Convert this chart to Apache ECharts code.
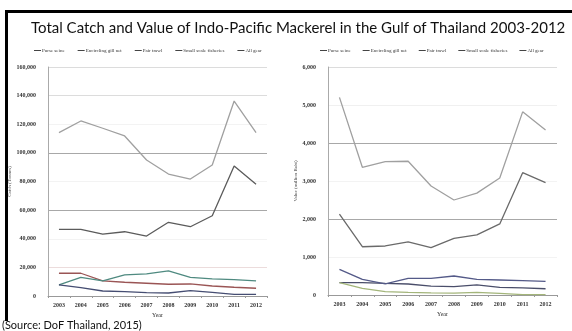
<!DOCTYPE html>
<html>
<head>
<meta charset="utf-8">
<script src="https://cdn.jsdelivr.net/npm/echarts@6/dist/echarts.min.js"></script>
<style>
  html, body { margin: 0; padding: 0; background: #fff; }
  #slide { position: relative; width: 572px; height: 331px; overflow: hidden; background: #fff; }
  #chart { position: absolute; left: 0; top: 0; width: 572px; height: 331px; }
  .frame-top { position: absolute; left: 5px; top: 10px; width: 567px; height: 3px; background: #000; }
  .frame-left { position: absolute; left: 5px; top: 10px; width: 3px; height: 311px; background: #000; }
</style>
</head>
<body>
<div id="slide">
  <div id="chart"></div>
  <div class="frame-top"></div>
  <div class="frame-left"></div>
</div>
<script>
// Years shown on both category axes
var years = ['2003', '2004', '2005', '2006', '2007', '2008', '2009', '2010', '2011', '2012'];
var gearNames = ['Purse seine', 'Encircling gill net', 'Pair trawl', 'Small scale fisheries', 'All gear'];

// Catch (tonnes)
var catchPurseSeine   = [46600, 46600, 43300, 44900, 41900, 51500, 48400, 56100, 90800, 78000];
var catchGillNet      = [15900, 15900, 10500, 9600, 8900, 8200, 8400, 7000, 6100, 5400];
var catchPairTrawl    = [7700, 13000, 10500, 14700, 15400, 17500, 13000, 11900, 11400, 10500];
var catchSmallScale   = [7700, 5800, 3500, 3000, 2300, 2100, 3700, 2600, 1200, 1200];
var catchAllGear      = [114100, 122300, 117200, 111800, 95000, 85200, 81700, 91500, 136200, 114100];

// Value (million Baht)
var valuePurseSeine   = [2130, 1270, 1290, 1400, 1245, 1490, 1580, 1870, 3220, 2955];
var valueGillNet      = [325, 325, 305, 290, 235, 220, 265, 200, 185, 165];
var valuePairTrawl    = [675, 410, 290, 440, 440, 500, 410, 395, 380, 360];
var valueSmallScale   = [325, 175, 90, 70, 55, 50, 70, 45, 10, 10];
var valueAllGear      = [5200, 3360, 3510, 3520, 2870, 2500, 2680, 3080, 4820, 4340];

var catchColors = ['#5b5b5b', '#9a5555', '#4f8a80', '#454d72', '#a0a0a0'];
var valueColors = ['#6a6a6a', '#4a4e6a', '#545a88', '#a3b57a', '#a0a0a0'];

var tickFont = { fontFamily: 'Liberation Serif', fontSize: 6, fontWeight: 'bold', color: '#333' };

function commas(v) { return Number(v).toLocaleString('en-US'); }

function makeXAxis(gridIndex) {
  return {
    type: 'category', gridIndex: gridIndex, data: years,
    name: 'Year', nameLocation: 'middle', nameGap: 13,
    nameTextStyle: { fontFamily: 'Liberation Serif', fontSize: 6, color: '#333' },
    axisLine: { lineStyle: { color: '#999', width: 1 } },
    axisTick: { show: true, length: 2, lineStyle: { color: '#999' } },
    axisLabel: Object.assign({ margin: 6 }, tickFont)
  };
}

function makeYAxis(gridIndex, max, interval, name, gridColors, margin) {
  return {
    type: 'value', gridIndex: gridIndex, min: 0, max: max, interval: interval,
    name: name, nameLocation: 'middle', nameGap: margin + 14, nameRotate: 90,
    nameTextStyle: { fontFamily: 'Liberation Serif', fontSize: 5, color: '#444' },
    axisLine: { show: true, lineStyle: { color: '#aaa', width: 1 } },
    axisTick: { show: false },
    axisLabel: Object.assign({ margin: margin, formatter: commas }, tickFont),
    splitLine: { show: true, lineStyle: { color: gridColors, width: 1 } }
  };
}

function makeSeries(values, colors, axisIndex) {
  return values.map(function (arr, i) {
    return {
      name: gearNames[i], type: 'line', data: arr,
      xAxisIndex: axisIndex, yAxisIndex: axisIndex,
      symbol: 'none', smooth: false,
      lineStyle: { color: colors[i], width: 1.3 },
      itemStyle: { color: colors[i] },
      z: 3
    };
  });
}

function makeLegend(left, gap) {
  return {
    data: gearNames, left: left, top: 48, padding: 0,
    icon: 'rect', itemWidth: 7, itemHeight: 1, itemGap: gap,
    itemStyle: { color: '#444' },
    textStyle: { fontFamily: 'Liberation Serif', fontSize: 5, color: '#333', padding: [0, 0, 0, -4] },
    selectedMode: false
  };
}

var chart = echarts.init(document.getElementById('chart'), null, { renderer: 'canvas' });
chart.setOption({
  animation: false,
  backgroundColor: 'transparent',
  title: [
    {
      text: 'Total Catch and Value of Indo-Pacific Mackerel in the Gulf of Thailand 2003-2012',
      left: 31, top: 21, padding: 0,
      textStyle: { fontFamily: 'Lato', fontSize: 15, fontWeight: 'normal', color: '#111' }
    },
    {
      text: '(Source: DoF Thailand, 2015)',
      left: 2, top: 320, padding: 0,
      textStyle: { fontFamily: 'Lato', fontSize: 11, fontWeight: 'normal', color: '#111' }
    }
  ],
  legend: [makeLegend(34, 13), makeLegend(320, 12)],
  grid: [
    { left: 48, right: 305, top: 67, bottom: 35 },
    { left: 328, right: 15, top: 67, bottom: 36 }
  ],
  xAxis: [makeXAxis(0), makeXAxis(1)],
  yAxis: [
    makeYAxis(0, 160000, 20000, 'Catch (Tonnes)',
      ['#ffffff', '#ecdcdc', '#f3f3f3', '#a8a8a8', '#f3f3f3', '#a8a8a8', '#f3f3f3', '#dcdcdc', '#dcdcdc'], 12),
    makeYAxis(1, 6000, 1000, 'Value (million Baht)',
      ['#ffffff', '#f3f3f3', '#a8a8a8', '#f3f3f3', '#a8a8a8', '#f0f0f0', '#dcdcdc'], 12)
  ],
  series: makeSeries([catchPurseSeine, catchGillNet, catchPairTrawl, catchSmallScale, catchAllGear], catchColors, 0)
    .concat(makeSeries([valuePurseSeine, valueGillNet, valuePairTrawl, valueSmallScale, valueAllGear], valueColors, 1))
});
</script>
</body>
</html>
